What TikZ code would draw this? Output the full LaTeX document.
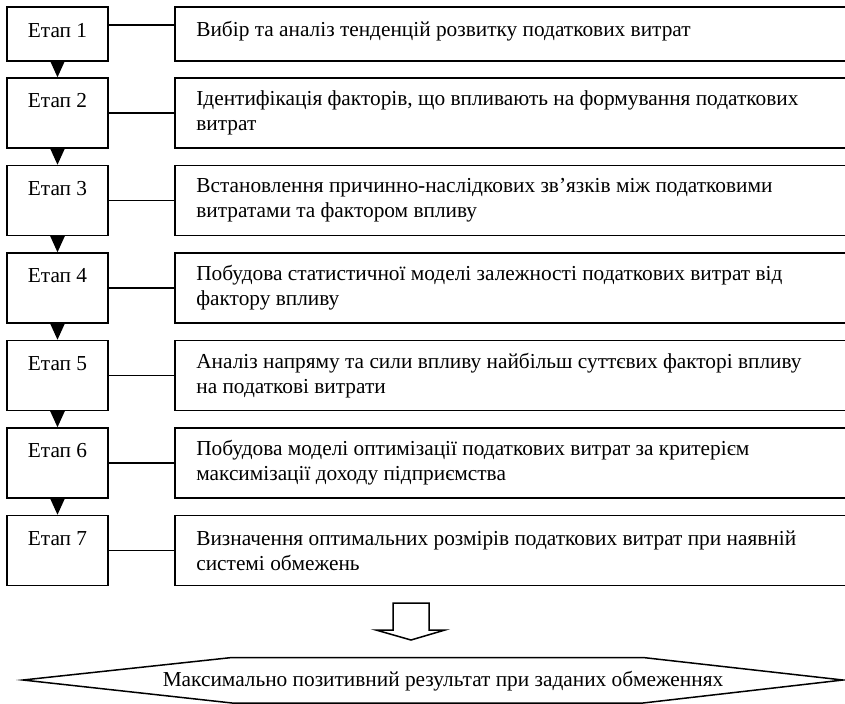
\documentclass[tikz,border=0pt]{standalone}
\usepackage{fontspec}
\setmainfont{Liberation Serif}
\usetikzlibrary{arrows.meta}
\tikzset{
	etap/.style={draw,line width=0.9pt,minimum width=60.6pt,minimum height=42pt,inner sep=0pt},
	zmist/.style={draw,line width=0.9pt,minimum width=405pt,minimum height=42pt,inner sep=0pt},
	txt/.style={font=\fontsize{12.8}{15}\selectfont,inner sep=0pt},
	opys/.style={txt,anchor=west,align=left},
	krok/.style={line width=0.9pt,-{Triangle[width=9pt,length=10.2pt]}},
}
\begin{document}
\begin{tikzpicture}[x=0.6pt,y=-0.6pt,line join=miter]
		\useasboundingbox (0,0) rectangle (845,703);
		% stages (left) and their contents (right)
		\node[etap,minimum height=32.4pt] (e1) at (57.5,34) {};
		\node[zmist,minimum height=32.4pt] (z1) at (512.5,34) {};
		\node[etap] (e2) at (57.5,113) {};
		\node[zmist] (z2) at (512.5,113) {};
		\node[etap] (e3) at (57.5,200.5) {};
		\node[zmist] (z3) at (512.5,200.5) {};
		\node[etap] (e4) at (57.5,288) {};
		\node[zmist] (z4) at (512.5,288) {};
		\node[etap] (e5) at (57.5,375.5) {};
		\node[zmist] (z5) at (512.5,375.5) {};
		\node[etap] (e6) at (57.5,463) {};
		\node[zmist] (z6) at (512.5,463) {};
		\node[etap] (e7) at (57.5,550.5) {};
		\node[zmist] (z7) at (512.5,550.5) {};
		\node[txt] (t1) at (57.5,31) {Етап 1};
		\node[txt] (t2) at (57.5,101) {Етап 2};
		\node[txt] (t3) at (57.5,188.5) {Етап 3};
		\node[txt] (t4) at (57.5,276) {Етап 4};
		\node[txt] (t5) at (57.5,363.5) {Етап 5};
		\node[txt] (t6) at (57.5,451) {Етап 6};
		\node[txt] (t7) at (57.5,538.5) {Етап 7};
		\node[opys] (o1) at (196,31) {Вибір та аналіз тенденцій розвитку податкових витрат};
		\node[opys] (o2) at (196,113) {Ідентифікація факторів, що впливають на формування податкових\\ витрат};
		\node[opys] (o3) at (196,200.5) {Встановлення причинно-наслідкових зв’язків між податковими\\ витратами та фактором впливу};
		\node[opys] (o4) at (196,288) {Побудова статистичної моделі залежності податкових витрат від\\ фактору впливу};
		\node[opys] (o5) at (196,375.5) {Аналіз напряму та сили впливу найбільш суттєвих факторі впливу\\ на податкові витрати};
		\node[opys] (o6) at (196,463) {Побудова моделі оптимізації податкових витрат за критерієм\\ максимізації доходу підприємства};
		\node[opys] (o7) at (196,550.5) {Визначення оптимальних розмірів податкових витрат при наявній\\ системі обмежень};
		% links
		\draw[line width=0.9pt] ([yshift=5.4pt]e1.east)--([yshift=5.4pt]z1.west);
		\draw[line width=0.9pt] (e2)--(z2);
		\draw[line width=0.9pt] (e3)--(z3);
		\draw[line width=0.9pt] (e4)--(z4);
		\draw[line width=0.9pt] (e5)--(z5);
		\draw[line width=0.9pt] (e6)--(z6);
		\draw[line width=0.9pt] (e7)--(z7);
		\draw[krok] (e1.south)--(e2.north);
		\draw[krok] (e2.south)--(e3.north);
		\draw[krok] (e3.south)--(e4.north);
		\draw[krok] (e4.south)--(e5.north);
		\draw[krok] (e5.south)--(e6.north);
		\draw[krok] (e6.south)--(e7.north);
		% hollow arrow and result
		\draw[line width=0.9pt] (393,603)--(429,603)--(429,630)--(445,630)--(411,640)--(376,630)--(393,630)--cycle;
		\node[txt] (rez) at (443,681) {Максимально позитивний результат при заданих обмеженнях};
		\draw[line width=0.9pt] (23,680)--(232,657.5)--(643,657.5)--(843,680)--(643,703)--(232,703)--cycle;
\end{tikzpicture}
\end{document}
